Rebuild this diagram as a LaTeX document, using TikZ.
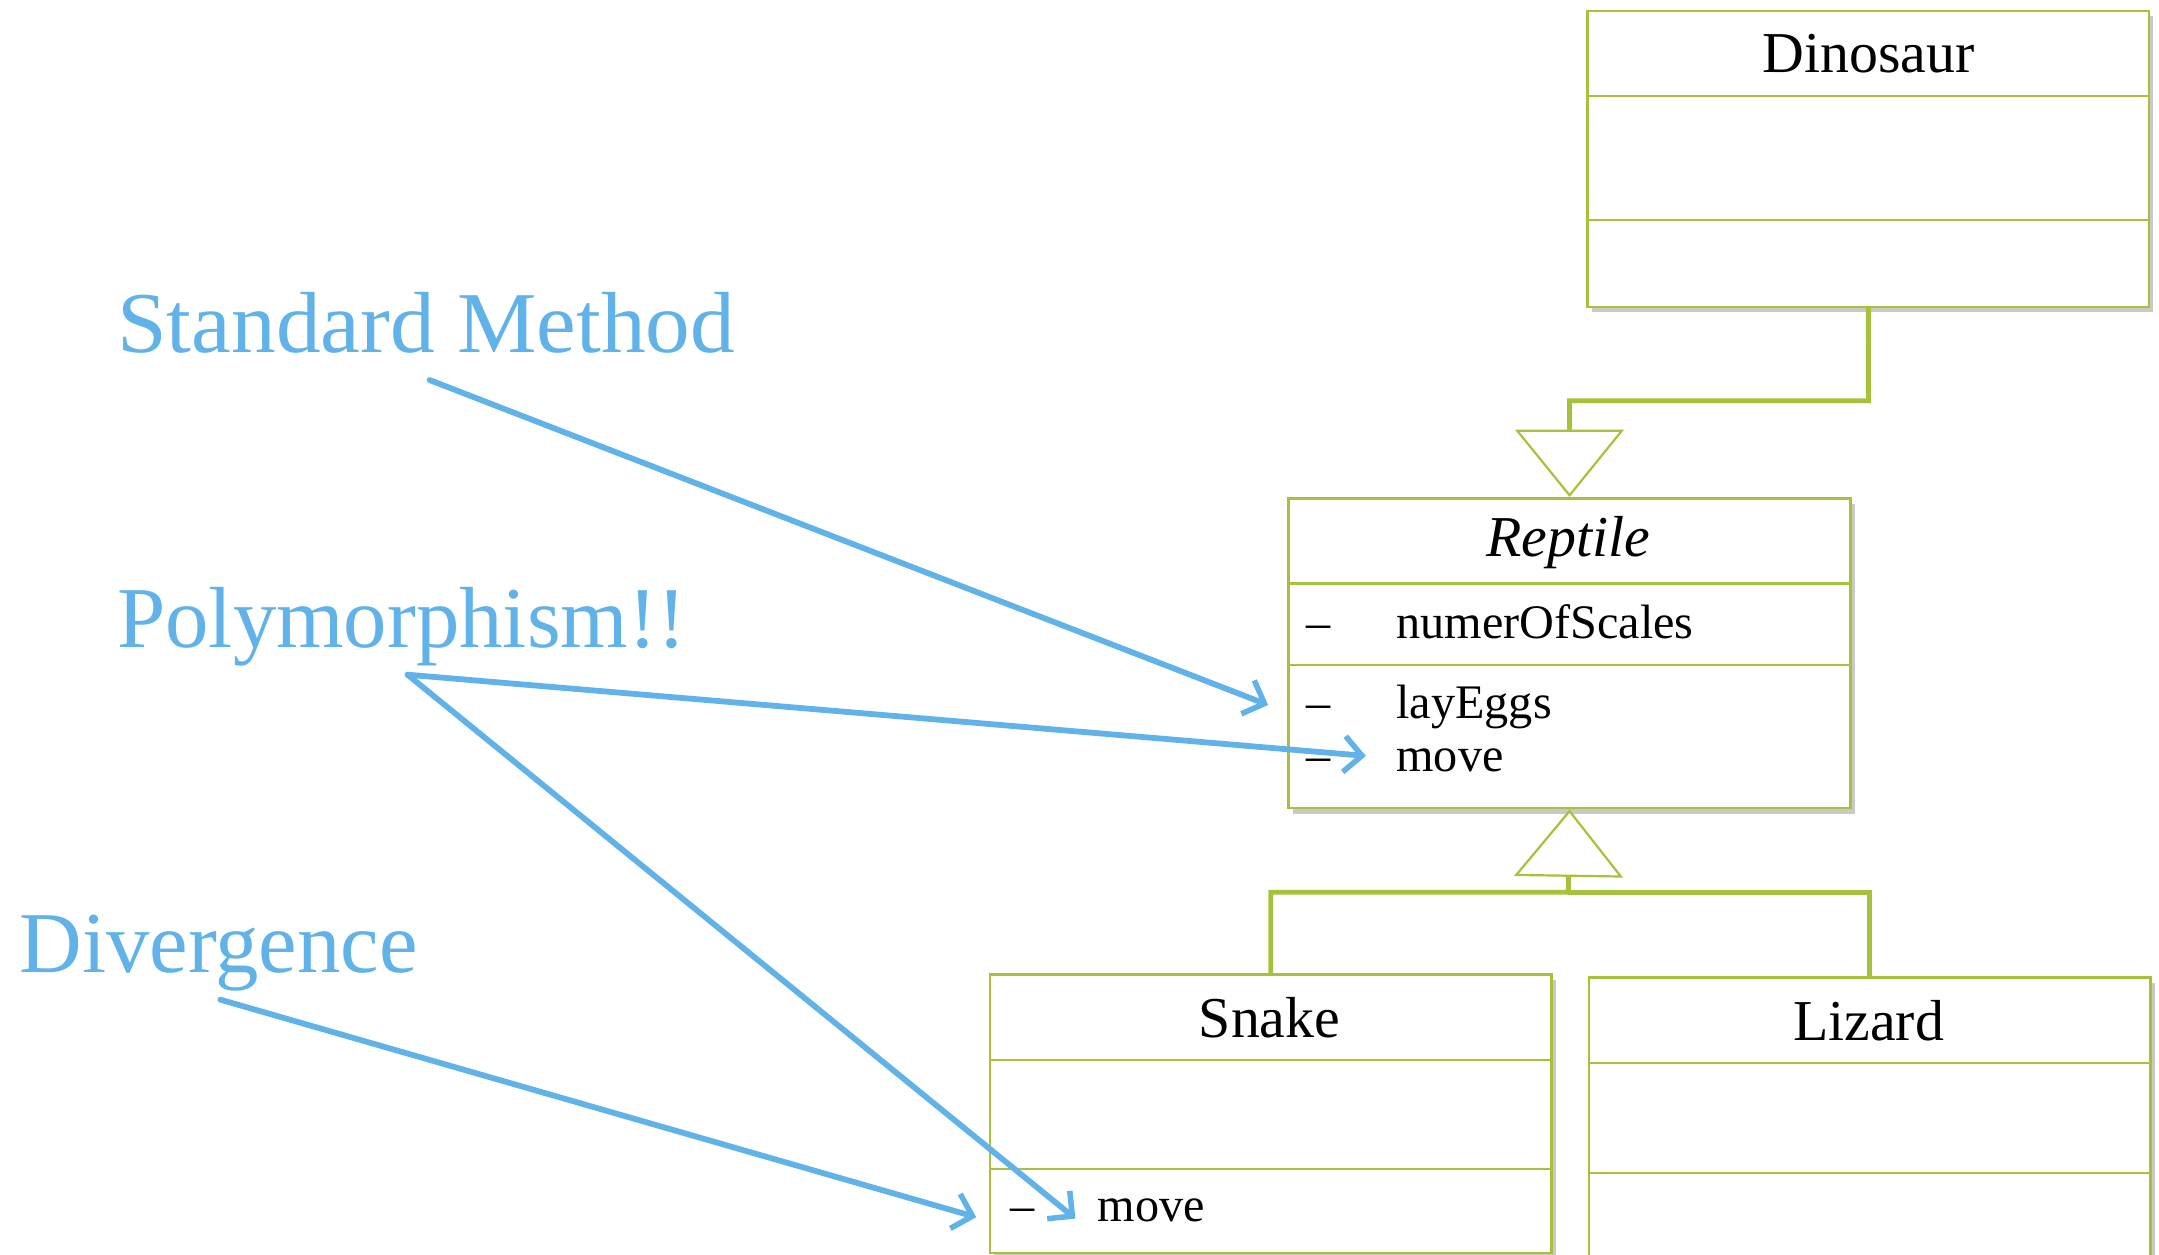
\documentclass[tikz,border=0pt]{standalone}
\usepackage{fontspec}
\setmainfont{Liberation Serif}
\usetikzlibrary{arrows.meta,shadows}
\definecolor{umlgreen}{RGB}{166,194,58}
\definecolor{noteblue}{RGB}{96,178,232}
\begin{document}
\begin{tikzpicture}[x=1pt,y=-1pt,
  compart/.style={draw=umlgreen, line width=1.8pt, fill=white, inner sep=0pt,
    anchor=north west, minimum width=408pt,
    drop shadow={shadow xshift=3pt, shadow yshift=-4pt, opacity=0.3, fill=black!70}},
  classname/.style={font=\fontsize{42}{48}\selectfont},
  member/.style={anchor=base west, inner sep=0pt, font=\fontsize{35}{40}\selectfont},
  gen/.style={draw=umlgreen, line width=3.5pt,
    -{Triangle[open, length=49pt, width=79pt, line width=1.6pt, fill=white]}},
  genline/.style={draw=umlgreen, line width=3.5pt},
  note/.style={anchor=base west, inner sep=0pt, text=noteblue, font=\fontsize{63}{70}\selectfont},
  pointer/.style={draw=noteblue, line width=4.2pt, line cap=round,
    -{Straight Barb[length=13pt, width=26pt, line width=4pt]}}
]
\useasboundingbox (0,0) rectangle (1568,911);
\clip (0,0) rectangle (1568,911);

% Dinosaur
\node[compart, minimum height=62pt] (dname) at (1152,7) {};
\node[compart, minimum height=90pt] (dattr) at (1152,69) {};
\node[compart, minimum height=63pt] (dops) at (1152,159) {};
\node[classname] (dlabel) at (1357,39) {Dinosaur};

% Reptile
\node[compart, minimum height=62pt] (rname) at (935,361) {};
\node[compart, minimum height=59pt] (rattr) at (935,423) {};
\node[compart, minimum height=104pt] (rops) at (935,482) {};
\node[classname] (rlabel) at (1139,394) {\itshape Reptile};
\node[member] (rd1) at (949,464) {–};
\node[member] (rm1) at (1014,464) {numerOfScales};
\node[member] (rd2) at (949,522) {–};
\node[member] (rm2) at (1014,522) {layEggs};
\node[member] (rd3) at (949,560) {–};
\node[member] (rm3) at (1014,560) {move};

% Snake
\node[compart, minimum height=62pt] (sname) at (718,707) {};
\node[compart, minimum height=79pt] (sattr) at (718,769) {};
\node[compart, minimum height=61pt] (sops) at (718,848) {};
\node[classname] (slabel) at (922,739) {Snake};
\node[member] (sd1) at (734,887) {–};
\node[member] (sm1) at (797,887) {move};

% Lizard
\node[compart, minimum height=62pt] (lname) at (1153,709) {};
\node[compart, minimum height=80pt] (lattr) at (1153,771) {};
\node[compart, minimum height=70pt] (lops) at (1153,851) {};
\node[classname] (llabel) at (1357,741) {Lizard};

% generalisation connectors
\coordinate (bend) at (1357,291);
\coordinate (join) at (1139,648);
\draw[gen] (dops.south) -- (bend) -| (rname.north);
\draw[genline] (lname.north) |- (join);
\draw[gen] (sname.north) |- (join) -- (rops.south);

% annotations
\node[note] (std) at (85,256) {\scalebox{1.03}[1]{Standard Method}};
\node[note] (poly) at (85,470) {Polymorphism!!};
\node[note] (div) at (14,706) {Divergence};

\coordinate (stdfoot) at (312,276);
\coordinate (polyfoot) at (296,490);
\coordinate (divfoot) at (160,726);
\coordinate (toLay) at (921,512);
\coordinate (toMove) at (992,549);
\coordinate (toSnakeMove) at (781,885);
\coordinate (toSnake) at (709,884);

\draw[pointer] (stdfoot) -- (toLay);
\draw[pointer] (polyfoot) -- (toMove);
\draw[pointer] (polyfoot) -- (toSnakeMove);
\draw[pointer] (divfoot) -- (toSnake);
\end{tikzpicture}
\end{document}
